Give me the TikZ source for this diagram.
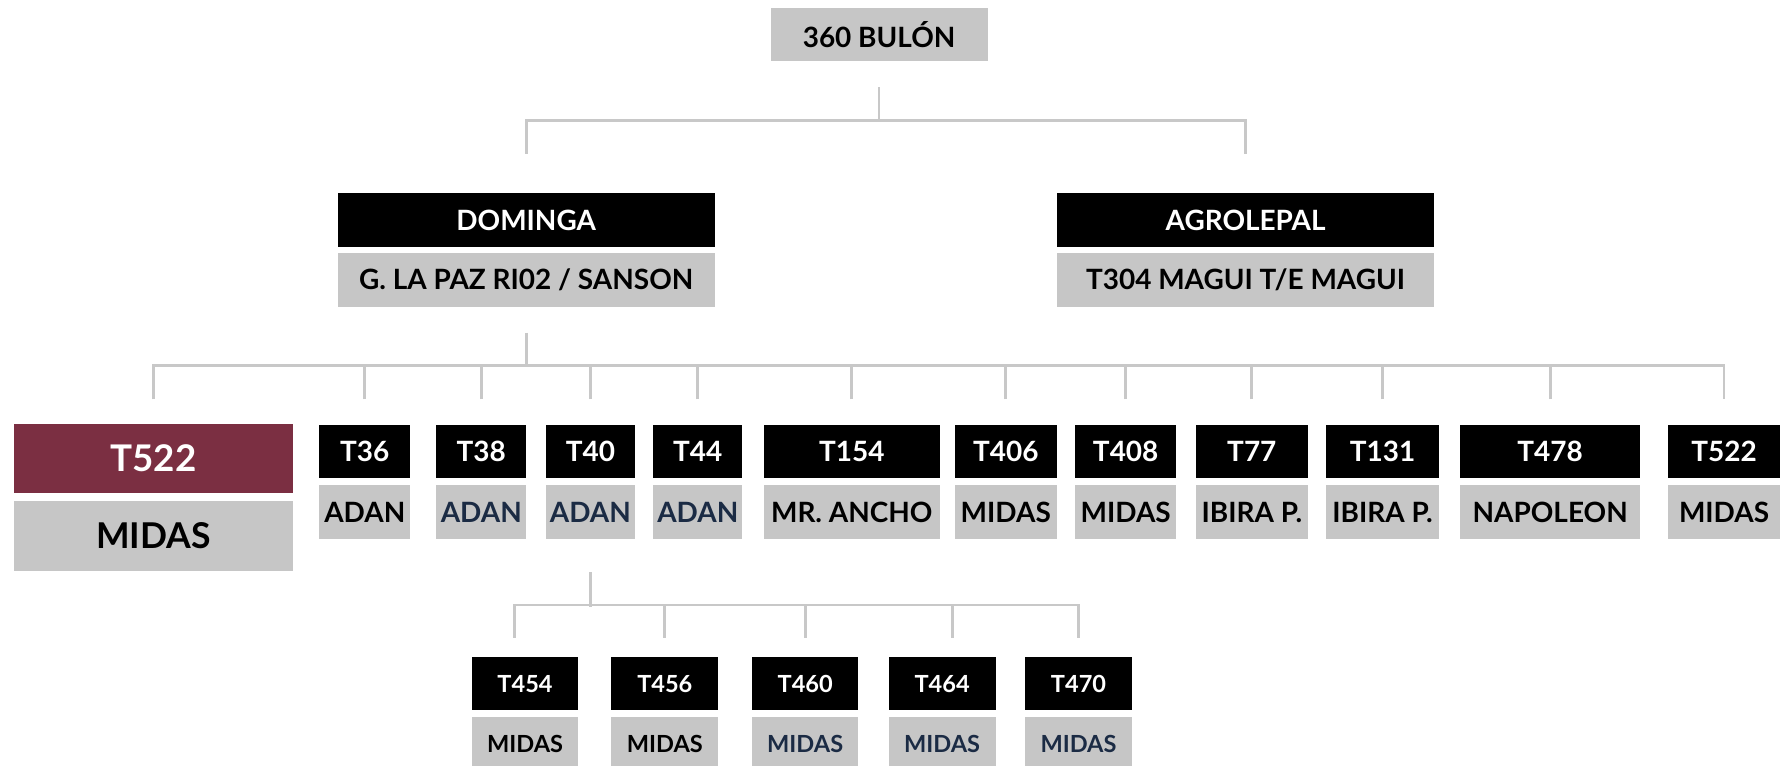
\documentclass[tikz,border=0pt]{standalone}
\usepackage{fontspec}
\setmainfont{Lato}
\definecolor{boxgray}{HTML}{C6C6C6}
\definecolor{linegray}{HTML}{C8C8C8}
\definecolor{maroon}{HTML}{7B2F42}
\definecolor{navy}{HTML}{1B2B44}
\tikzset{
  code/.style={fill=black, text=white, inner sep=0pt, minimum height=4.7mm, font=\bfseries\fontsize{7}{8}\selectfont},
  label/.style={fill=boxgray, text=black, inner sep=0pt, minimum height=4.7mm, font=\bfseries\fontsize{7}{8}\selectfont},
  small/.style={font=\bfseries\fontsize{5.9}{7}\selectfont},
  link/.style={draw=linegray, line width=0.7pt},
}
\begin{document}
\begin{tikzpicture}[x=0.1mm, y=0.1mm]
\useasboundingbox (0,0) rectangle (1568,-674);
% top
\node[label, minimum width=19.1mm] (bulon) at (773.5,-30.5) {360 BULÓN};
\node[code, minimum width=33.2mm] (dominga) at (463,-193.5) {DOMINGA};
\node[label, minimum width=33.2mm] (lapaz) at (463,-246.5) {G. LA PAZ RI02 / SANSON};
\node[code, minimum width=33.2mm] (agrolepal) at (1096,-193.5) {AGROLEPAL};
\node[label, minimum width=33.2mm] (magui) at (1096,-246.5) {T304 MAGUI T/E MAGUI};
% second row
\node[code, fill=maroon, minimum width=24.6mm, minimum height=6.1mm, font=\bfseries\fontsize{9.2}{10}\selectfont] (t522a) at (135,-403.5) {T522};
\node[label, minimum width=24.6mm, minimum height=6.1mm, font=\bfseries\fontsize{8.9}{10}\selectfont] (midas0) at (135,-471.5) {MIDAS};
\node[code, minimum width=8mm] (t36) at (321,-397.5) {T36};
\node[label, minimum width=8mm] (adan1) at (321,-450.5) {ADAN};
\node[code, minimum width=7.9mm] (t38) at (423.5,-397.5) {T38};
\node[label, text=navy, minimum width=7.9mm] (adan2) at (423.5,-450.5) {ADAN};
\node[code, minimum width=7.9mm] (t40) at (519.5,-397.5) {T40};
\node[label, text=navy, minimum width=7.9mm] (adan3) at (519.5,-450.5) {ADAN};
\node[code, minimum width=7.8mm] (t44) at (614,-397.5) {T44};
\node[label, text=navy, minimum width=7.8mm] (adan4) at (614,-450.5) {ADAN};
\node[code, minimum width=15.5mm] (t154) at (749.5,-397.5) {T154};
\node[label, minimum width=15.5mm] (ancho) at (749.5,-450.5) {MR. ANCHO};
\node[code, minimum width=9mm] (t406) at (885,-397.5) {T406};
\node[label, minimum width=9mm] (midas1) at (885,-450.5) {MIDAS};
\node[code, minimum width=8.9mm] (t408) at (990.5,-397.5) {T408};
\node[label, minimum width=8.9mm] (midas2) at (990.5,-450.5) {MIDAS};
\node[code, minimum width=9.9mm] (t77) at (1101.5,-397.5) {T77};
\node[label, minimum width=9.9mm] (ibira1) at (1101.5,-450.5) {IBIRA P.};
\node[code, minimum width=9.9mm] (t131) at (1216.5,-397.5) {T131};
\node[label, minimum width=9.9mm] (ibira2) at (1216.5,-450.5) {IBIRA P.};
\node[code, minimum width=15.8mm] (t478) at (1364,-397.5) {T478};
\node[label, minimum width=15.8mm] (napoleon) at (1364,-450.5) {NAPOLEON};
\node[code, minimum width=9.8mm] (t522b) at (1517,-397.5) {T522};
\node[label, minimum width=9.8mm] (midas3) at (1517,-450.5) {MIDAS};
% third row
\node[code, small, minimum width=9.4mm] (t454) at (462,-601.5) {T454};
\node[label, small, minimum width=9.4mm] (midas4) at (462,-654.5) {MIDAS};
\node[code, small, minimum width=9.4mm] (t456) at (585,-601.5) {T456};
\node[label, small, minimum width=9.4mm] (midas5) at (585,-654.5) {MIDAS};
\node[code, small, minimum width=9.3mm] (t460) at (708.5,-601.5) {T460};
\node[label, small, text=navy, minimum width=9.3mm] (midas6) at (708.5,-654.5) {MIDAS};
\node[code, small, minimum width=9.4mm] (t464) at (829,-601.5) {T464};
\node[label, small, text=navy, minimum width=9.4mm] (midas7) at (829,-654.5) {MIDAS};
\node[code, small, minimum width=9.4mm] (t470) at (949,-601.5) {T470};
\node[label, small, text=navy, minimum width=9.4mm] (midas8) at (949,-654.5) {MIDAS};
% connectors
\draw[link] ([yshift=-2.2mm]bulon.south) -- ++(0,-3.1mm);
\draw[link] ([yshift=3.4mm]dominga.north) -- ++(0,2.9mm) -| ([yshift=3.4mm]agrolepal.north);
\draw[link] ([yshift=-2.2mm]lapaz.south) -- ++(0,-3mm);
\draw[link] ([yshift=2.1mm]t522a.north) -- ++(0,3mm) -| ([yshift=2.2mm]t522b.north);
\draw[link] ([yshift=2.2mm]t36.north) -- ++(0,3mm);
\draw[link] ([yshift=2.2mm]t38.north) -- ++(0,3mm);
\draw[link] ([yshift=2.2mm]t40.north) -- ++(0,3mm);
\draw[link] ([yshift=2.2mm]t44.north) -- ++(0,3mm);
\draw[link] ([yshift=2.2mm]t154.north) -- ++(0,3mm);
\draw[link] ([yshift=2.2mm]t406.north) -- ++(0,3mm);
\draw[link] ([yshift=2.2mm]t408.north) -- ++(0,3mm);
\draw[link] ([yshift=2.2mm]t77.north) -- ++(0,3mm);
\draw[link] ([yshift=2.2mm]t131.north) -- ++(0,3mm);
\draw[link] ([yshift=2.2mm]t478.north) -- ++(0,3mm);
\draw[link] ([yshift=-2.9mm]adan3.south) -- ++(0,-3mm);
\draw[link] ([xshift=-0.9mm, yshift=1.6mm]t454.north) -- ++(0,2.9mm) -| ([yshift=1.6mm]t470.north);
\draw[link] ([yshift=1.6mm]t456.north) -- ++(0,2.9mm);
\draw[link] ([yshift=1.6mm]t460.north) -- ++(0,2.9mm);
\draw[link] ([xshift=0.9mm, yshift=1.6mm]t464.north) -- ++(0,2.9mm);
\end{tikzpicture}
\end{document}
